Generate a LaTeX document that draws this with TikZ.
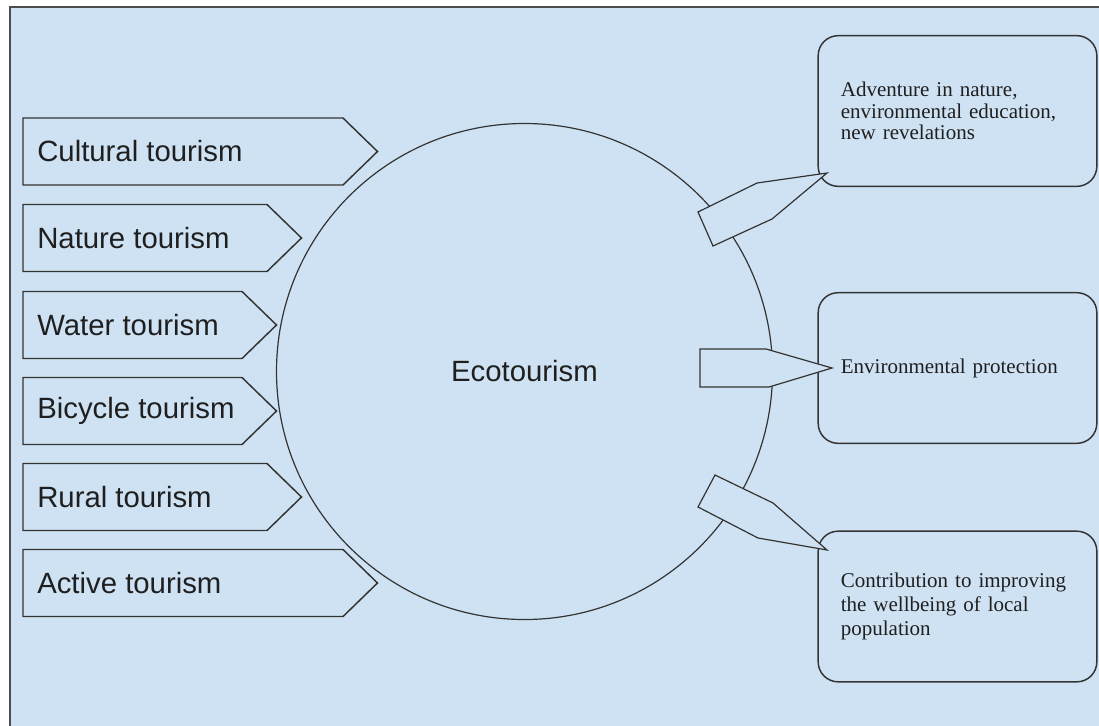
\documentclass[tikz,border=0pt]{standalone}
\usepackage{fontspec}
\setmainfont{Liberation Serif}
\setsansfont{Liberation Sans}
\usepackage{tikz}

\definecolor{skyfill}{HTML}{CFE2F3}
\definecolor{inkline}{HTML}{333333}

\tikzset{
  tagshape/.style={draw=inkline, line width=1.1pt, fill=skyfill},
  tagtext/.style={anchor=west, inner sep=0pt, text=black!88,
    font=\sffamily\fontsize{22}{26}\selectfont},
  goalbox/.style={draw=inkline, line width=1.1pt, rounded corners=15pt,
    minimum width=209pt, minimum height=113pt, text width=175pt,
    align=left, inner xsep=17pt, text=black!88},
  pointer/.style={draw=inkline, line width=0.9pt, fill=skyfill},
}

\begin{document}
\begin{tikzpicture}[x=0.75pt,y=-0.75pt]
  \useasboundingbox (0,0) rectangle (1099,725);
  \clip (0,0) rectangle (1099,725);
  \fill[white] (0,0) rectangle (1099,725);
  \draw[fill=skyfill, draw=black!70, line width=1.5pt] (10,7) rectangle (1130,760);

  % kinds of tourism
  \foreach \name/\txt/\y/\flat in {cult/Cultural tourism/151.5/343,
      nat/Nature tourism/238/267, wat/Water tourism/325/242,
      bike/Bicycle tourism/411/242, rur/Rural tourism/497/267,
      act/Active tourism/583/343} {
    \draw[tagshape] (23,\y-33.5) -- (\flat,\y-33.5) -- (\flat+34.5,\y)
      -- (\flat,\y+33.5) -- (23,\y+33.5) -- cycle;
    \node[tagtext] (\name) at (37,\y) {\txt};
  }

  \node[circle, draw=inkline, line width=0.9pt, minimum size=372pt, inner sep=0pt,
    text=black!88, font=\sffamily\fontsize{22}{26}\selectfont] (eco) at (524.5,371.5) {Ecotourism};

  % outcomes
  \node[goalbox, font=\fontsize{15.75}{16}\selectfont] (adv) at (957.5,111)
    {Adventure in nature,\\environmental education,\\new revelations};
  \node[goalbox, font=\fontsize{15.75}{16}\selectfont] (prot) at (957.5,368)
    {Environmental protection};
  \node[goalbox, font=\fontsize{15.75}{18}\selectfont] (well) at (957.5,606.5)
    {Contribution to improving\\the wellbeing of local\\population};

  \coordinate (advtip) at (827,173);
  \coordinate (prottip) at (832,368);
  \coordinate (welltip) at (827,550);

  \draw[pointer] (698,212) -- (757,183) -- (advtip) -- (772,219) -- (713,246) -- cycle;
  \draw[pointer] (700,349) -- (766,349) -- (prottip) -- (769,387) -- (700,387) -- cycle;
  \draw[pointer] (715,475) -- (773,503) -- (welltip) -- (758,538) -- (698,507) -- cycle;
\end{tikzpicture}
\end{document}
